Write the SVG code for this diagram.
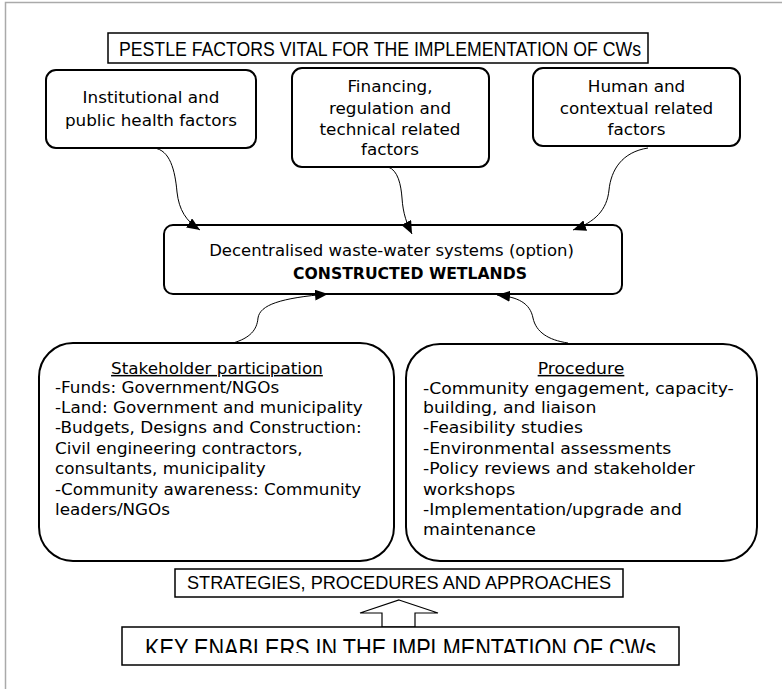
<svg xmlns="http://www.w3.org/2000/svg" width="782" height="689" viewBox="0 0 782 689">
<style>
.box{fill:#fff;stroke:#000;stroke-width:2}
.hdr{fill:#fff;stroke:#000;stroke-width:1.5}
.t{font-family:"DejaVu Sans",sans-serif;font-size:15px;fill:#000}
.tc{font-family:"DejaVu Sans",sans-serif;font-size:15px;fill:#000;text-anchor:middle}
.cap{font-family:"Liberation Sans",Arial,sans-serif;fill:#000}
.con{fill:none;stroke:#000;stroke-width:1}
</style>
<defs>
<marker id="ah" markerUnits="userSpaceOnUse" markerWidth="14" markerHeight="11" refX="13" refY="5.5" orient="auto">
<path d="M0,0 L13,5.5 L0,11 z" fill="#000"/>
</marker>
<clipPath id="kclip"><rect x="123" y="628" width="555" height="25"/></clipPath>
</defs>
<rect width="782" height="689" fill="#fff"/>
<path d="M5.5,689 V2.5 H782" fill="none" stroke="#aaa" stroke-width="1.5"/>

<g id="title">
<rect class="hdr" x="108" y="33" width="540" height="30"/>
<text class="cap" x="119" y="56" font-size="20" textLength="522" lengthAdjust="spacingAndGlyphs">PESTLE FACTORS VITAL FOR THE IMPLEMENTATION OF CWs</text>
</g>

<g id="institutional">
<rect class="box" x="46" y="70" width="210" height="78" rx="10"/>
<g transform="translate(151,0) scale(1.12,1)">
<text class="tc" x="0" y="103">Institutional and</text>
<text class="tc" x="0" y="126">public health factors</text>
</g>
</g>

<g id="financing">
<rect class="box" x="292" y="68" width="197" height="99" rx="10"/>
<g transform="translate(390,0) scale(1.12,1)">
<text class="tc" x="0" y="92">Financing,</text>
<text class="tc" x="0" y="114">regulation and</text>
<text class="tc" x="0" y="135">technical related</text>
<text class="tc" x="0" y="155">factors</text>
</g>
</g>

<g id="human">
<rect class="box" x="533" y="68" width="207" height="78" rx="10"/>
<g transform="translate(636.5,0) scale(1.12,1)">
<text class="tc" x="0" y="92">Human and</text>
<text class="tc" x="0" y="114">contextual related</text>
<text class="tc" x="0" y="135">factors</text>
</g>
</g>

<g id="central">
<rect class="box" x="164" y="225" width="458" height="69" rx="9"/>
<g transform="translate(391.5,0) scale(1.1,1)">
<text class="tc" x="0" y="256" font-size="16.5">Decentralised waste-water systems (option)</text>
</g>
<text class="t" x="293" y="279" font-size="15.5" font-weight="bold" textLength="234" lengthAdjust="spacingAndGlyphs">CONSTRUCTED WETLANDS</text>
</g>

<g id="stakeholder">
<rect class="box" x="39" y="343" width="355" height="218" rx="34"/>
<g transform="translate(55,0) scale(1.12,1)">
<text class="tc" x="144.6" y="374" text-decoration="underline">Stakeholder participation</text>
<text class="t" x="0" y="393">-Funds: Government/NGOs</text>
<text class="t" x="0" y="413">-Land: Government and municipality</text>
<text class="t" x="0" y="433">-Budgets, Designs and Construction:</text>
<text class="t" x="0" y="454">Civil engineering contractors,</text>
<text class="t" x="0" y="474">consultants, municipality</text>
<text class="t" x="0" y="495">-Community awareness: Community</text>
<text class="t" x="0" y="515">leaders/NGOs</text>
</g>
</g>

<g id="procedure">
<rect class="box" x="406" y="344" width="351" height="217" rx="34"/>
<g transform="translate(423,0) scale(1.15,1)">
<text class="tc" x="137.4" y="374" text-decoration="underline">Procedure</text>
<text class="t" x="0" y="394">-Community engagement, capacity-</text>
<text class="t" x="0" y="413">building, and liaison</text>
<text class="t" x="0" y="433">-Feasibility studies</text>
<text class="t" x="0" y="454">-Environmental assessments</text>
<text class="t" x="0" y="474">-Policy reviews and stakeholder</text>
<text class="t" x="0" y="495">workshops</text>
<text class="t" x="0" y="515">-Implementation/upgrade and</text>
<text class="t" x="0" y="535">maintenance</text>
</g>
</g>

<g id="strategies">
<rect class="hdr" x="175" y="569" width="448" height="28"/>
<text class="cap" x="187" y="589" font-size="18" textLength="424" lengthAdjust="spacingAndGlyphs">STRATEGIES, PROCEDURES AND APPROACHES</text>
</g>

<g id="block-arrow">
<path d="M399,600 L438,613 L415,613 L415,627 L382,627 L382,613 L360,613 Z" fill="#fff" stroke="#000" stroke-width="1.2"/>
</g>

<g id="key-enablers">
<rect class="hdr" x="122" y="627" width="557" height="38"/>
<text class="cap" x="145" y="657" font-size="26" textLength="511" lengthAdjust="spacingAndGlyphs" clip-path="url(#kclip)">KEY ENABLERS IN THE IMPLMENTATION OF CWs</text>
</g>

<g id="connectors">
<path class="con" d="M154,148 C170,150 175,170 177,192 C179,210 186,221 200,230" marker-end="url(#ah)"/>
<path class="con" d="M388,167 C398,170 401,185 402,198 C403,214 407,224 412,234" marker-end="url(#ah)"/>
<path class="con" d="M648,148 C622,152 611,170 609,190 C607,210 595,222 573,230" marker-end="url(#ah)"/>
<path class="con" d="M233,343 C250,338 257,330 258,318 C260,305 280,298 328,294" marker-end="url(#ah)"/>
<path class="con" d="M568,343 C548,340 536,332 533,318 C530,303 518,297 497,295" marker-end="url(#ah)"/>
</g>
</svg>
